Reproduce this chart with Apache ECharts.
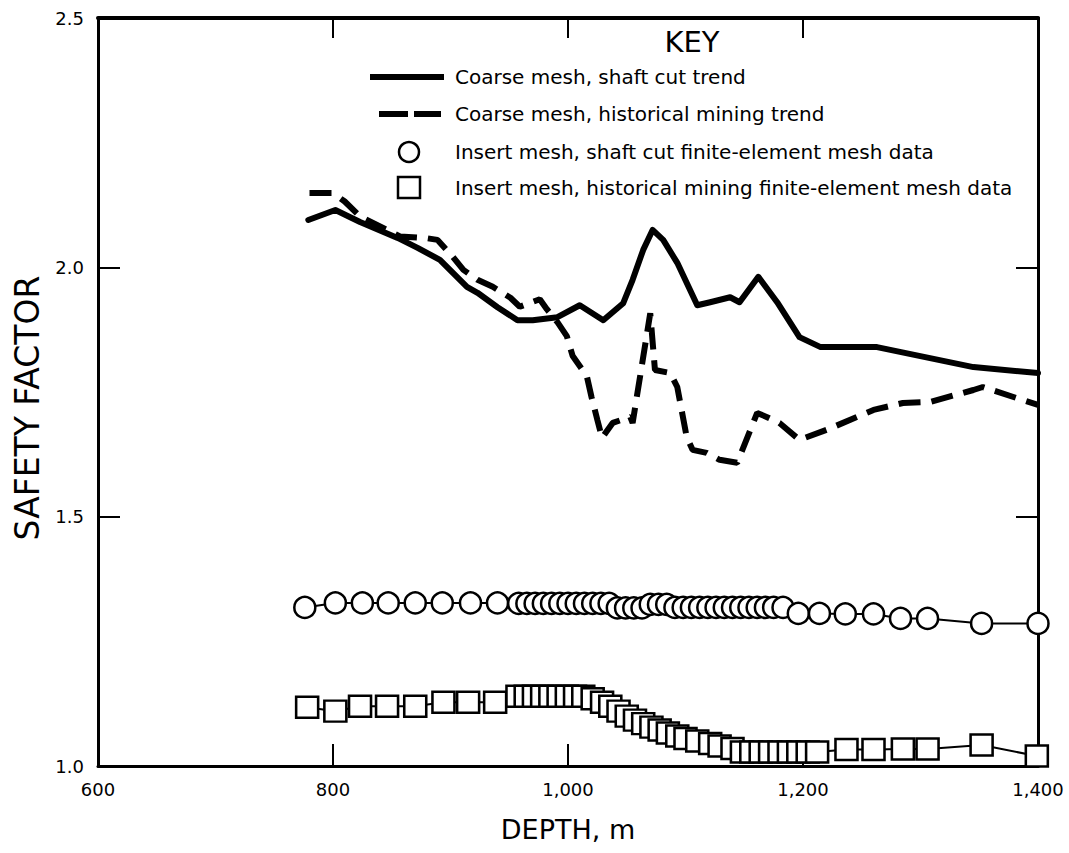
<!DOCTYPE html>
<html><head><meta charset="utf-8">
<script src="https://cdn.jsdelivr.net/npm/echarts@6/dist/echarts.min.js"></script>
<style>html,body{margin:0;padding:0;background:#fff}#c{width:1069px;height:853px}</style>
</head><body><div id="c"></div>
<script>
// ---- tick labels ----
const xTickLabels = ['600', '800', '1,000', '1,200', '1,400'];
const yTickLabels = ['1.0', '1.5', '2.0', '2.5'];

// ---- legend texts ----
const seriesNames = [
  'Coarse mesh, shaft cut trend',
  'Coarse mesh, historical mining trend',
  'Insert mesh, shaft cut finite-element mesh data',
  'Insert mesh, historical mining finite-element mesh data'
];

// ---- Coarse mesh, shaft cut trend ----
const shaftTrendDepth = [779, 802, 823, 855, 872, 891, 914, 923, 940, 957, 970, 991, 1010, 1030, 1047, 1055, 1064, 1072, 1081, 1093, 1110, 1121, 1138, 1146, 1162, 1178, 1197, 1215, 1263, 1345, 1400];
const shaftTrendValue = [2.095, 2.115, 2.091, 2.059, 2.039, 2.015, 1.961, 1.949, 1.920, 1.894, 1.894, 1.900, 1.924, 1.894, 1.928, 1.975, 2.035, 2.075, 2.055, 2.009, 1.924, 1.930, 1.940, 1.930, 1.981, 1.930, 1.860, 1.840, 1.840, 1.800, 1.788];

// ---- Coarse mesh, historical mining trend ----
const histTrendDepth = [780, 800, 810, 823, 857, 878, 889, 902, 911, 923, 936, 951, 959, 976, 982, 991, 999, 1004, 1016, 1020, 1025, 1029, 1038, 1053, 1055, 1070, 1074, 1087, 1093, 1101, 1106, 1118, 1129, 1144, 1161, 1169, 1180, 1197, 1220, 1260, 1285, 1308, 1345, 1353, 1400];
const histTrendValue = [2.149, 2.149, 2.132, 2.102, 2.062, 2.059, 2.055, 2.021, 1.995, 1.975, 1.961, 1.939, 1.921, 1.936, 1.916, 1.890, 1.862, 1.822, 1.782, 1.740, 1.694, 1.658, 1.688, 1.700, 1.688, 1.908, 1.794, 1.788, 1.760, 1.660, 1.634, 1.628, 1.614, 1.608, 1.708, 1.700, 1.688, 1.654, 1.674, 1.714, 1.728, 1.730, 1.754, 1.760, 1.724];

// ---- Insert mesh, shaft cut FE data (circles) ----
const shaftInsertDepth = [776, 802, 825, 847, 870, 893, 917, 940, 958, 965, 972, 979, 986, 993, 1000, 1007, 1014, 1021, 1028, 1035, 1042, 1049, 1056, 1063, 1070, 1077, 1084, 1091, 1098, 1105, 1112, 1119, 1126, 1133, 1140, 1147, 1154, 1161, 1168, 1175, 1183, 1196, 1214, 1236, 1260, 1283, 1306, 1352, 1400];
const shaftInsertValue = [1.318, 1.327, 1.327, 1.327, 1.327, 1.327, 1.327, 1.327, 1.326, 1.326, 1.326, 1.326, 1.326, 1.326, 1.326, 1.326, 1.326, 1.326, 1.326, 1.326, 1.317, 1.317, 1.317, 1.317, 1.324, 1.324, 1.324, 1.318, 1.318, 1.318, 1.318, 1.318, 1.318, 1.318, 1.318, 1.318, 1.318, 1.318, 1.318, 1.318, 1.318, 1.306, 1.306, 1.305, 1.305, 1.296, 1.296, 1.286, 1.286];

// ---- Insert mesh, historical mining FE data (squares) ----
const histInsertDepth = [778, 802, 823, 846, 870, 894, 915, 938, 957, 964, 971, 978, 985, 992, 999, 1006, 1013, 1021, 1029, 1036, 1043, 1050, 1057, 1064, 1071, 1078, 1085, 1093, 1100, 1110, 1121, 1129, 1140, 1148, 1156, 1164, 1172, 1180, 1188, 1196, 1204, 1212, 1237, 1260, 1285, 1306, 1352, 1399];
const histInsertValue = [1.118, 1.110, 1.120, 1.120, 1.120, 1.128, 1.128, 1.128, 1.140, 1.140, 1.140, 1.140, 1.140, 1.140, 1.140, 1.140, 1.140, 1.135, 1.128, 1.120, 1.110, 1.100, 1.092, 1.085, 1.078, 1.072, 1.066, 1.060, 1.055, 1.050, 1.045, 1.040, 1.035, 1.028, 1.028, 1.028, 1.028, 1.028, 1.028, 1.028, 1.028, 1.028, 1.033, 1.033, 1.034, 1.034, 1.042, 1.020];

function pairs(xs, ys) { return xs.map((x, i) => [x, ys[i]]); }

const FONT = 'DejaVu Sans';
const chart = echarts.init(document.getElementById('c'), null, { renderer: 'svg' });

const baseX = {
  type: 'value', min: 600, max: 1400, interval: 200,
  splitLine: { show: false }
};
const baseY = {
  type: 'value', min: 1.0, max: 2.5, interval: 0.5,
  splitLine: { show: false }
};

const option = {
  animation: false,
  backgroundColor: '#ffffff',
  grid: { left: 98, right: 31, top: 18, bottom: 87, containLabel: false },
  xAxis: [
    Object.assign({}, baseX, {
      position: 'bottom',
      name: 'DEPTH, m', nameLocation: 'middle', nameGap: 50,
      nameTextStyle: { fontFamily: FONT, fontSize: 27, color: '#000' },
      axisLine: { show: true, onZero: false, lineStyle: { color: '#000', width: 3 } },
      axisTick: { show: true, inside: true, length: 22, lineStyle: { color: '#000', width: 2 } },
      axisLabel: { margin: 14, fontFamily: FONT, fontSize: 18, color: '#000',
        formatter: v => xTickLabels[Math.round((v - 600) / 200)] }
    }),
    Object.assign({}, baseX, {
      position: 'top',
      axisLine: { show: true, onZero: false, lineStyle: { color: '#000', width: 4 } },
      axisTick: { show: true, inside: true, length: 20, lineStyle: { color: '#000', width: 2 } },
      axisLabel: { show: false }
    })
  ],
  yAxis: [
    Object.assign({}, baseY, {
      position: 'left',
      name: 'SAFETY FACTOR', nameLocation: 'middle', nameGap: 52, nameRotate: 90,
      nameTextStyle: { fontFamily: FONT, fontSize: 33, color: '#000', padding: [0, 32, 0, 0] },
      axisLine: { show: true, onZero: false, lineStyle: { color: '#000', width: 3 } },
      axisTick: { show: true, inside: true, length: 22, lineStyle: { color: '#000', width: 2 } },
      axisLabel: { margin: 14, fontFamily: FONT, fontSize: 18, color: '#000',
        formatter: v => yTickLabels[Math.round((v - 1.0) / 0.5)] }
    }),
    Object.assign({}, baseY, {
      position: 'right',
      axisLine: { show: true, onZero: false, lineStyle: { color: '#000', width: 3 } },
      axisTick: { show: true, inside: true, length: 22, lineStyle: { color: '#000', width: 2 } },
      axisLabel: { show: false }
    })
  ],
  series: [
    {
      name: seriesNames[0], type: 'line', data: pairs(shaftTrendDepth, shaftTrendValue),
      symbol: 'none', lineStyle: { color: '#000', width: 6, join: 'round', cap: 'round' }, z: 2
    },
    {
      name: seriesNames[1], type: 'line', data: pairs(histTrendDepth, histTrendValue),
      symbol: 'none', lineStyle: { color: '#000', width: 6, type: [22, 11] }, z: 2
    },
    {
      name: seriesNames[2], type: 'line', data: pairs(shaftInsertDepth, shaftInsertValue),
      symbol: 'circle', symbolSize: 21, showAllSymbol: true,
      itemStyle: { color: '#fff', borderColor: '#000', borderWidth: 2.5 },
      lineStyle: { color: '#000', width: 2 }, z: 3
    },
    {
      name: seriesNames[3], type: 'line', data: pairs(histInsertDepth, histInsertValue),
      symbol: 'rect', symbolSize: [22, 21], showAllSymbol: true,
      itemStyle: { color: '#fff', borderColor: '#000', borderWidth: 2.5 },
      lineStyle: { color: '#000', width: 2 }, z: 3
    }
  ],
  graphic: [
    { type: 'text', x: 692, y: 42, style: { text: 'KEY', fontFamily: FONT, fontSize: 29, fill: '#000', align: 'center', verticalAlign: 'middle' } },
    { type: 'line', shape: { x1: 370, y1: 77, x2: 444, y2: 77 }, style: { stroke: '#000', lineWidth: 6 } },
    { type: 'text', x: 455, y: 77, style: { text: seriesNames[0], fontFamily: FONT, fontSize: 20, fill: '#000', verticalAlign: 'middle' } },
    { type: 'line', shape: { x1: 379, y1: 114, x2: 408, y2: 114 }, style: { stroke: '#000', lineWidth: 6 } },
    { type: 'line', shape: { x1: 414, y1: 114, x2: 441, y2: 114 }, style: { stroke: '#000', lineWidth: 6 } },
    { type: 'text', x: 455, y: 114, style: { text: seriesNames[1], fontFamily: FONT, fontSize: 20, fill: '#000', verticalAlign: 'middle' } },
    { type: 'circle', shape: { cx: 409, cy: 152, r: 10 }, style: { fill: '#fff', stroke: '#000', lineWidth: 2.5 } },
    { type: 'text', x: 455, y: 152, style: { text: seriesNames[2], fontFamily: FONT, fontSize: 20, fill: '#000', verticalAlign: 'middle' } },
    { type: 'rect', shape: { x: 398, y: 177, width: 22, height: 21 }, style: { fill: '#fff', stroke: '#000', lineWidth: 2.5 } },
    { type: 'text', x: 455, y: 188, style: { text: seriesNames[3], fontFamily: FONT, fontSize: 20, fill: '#000', verticalAlign: 'middle' } }
  ]
};
chart.setOption(option);
</script>
</body></html>
